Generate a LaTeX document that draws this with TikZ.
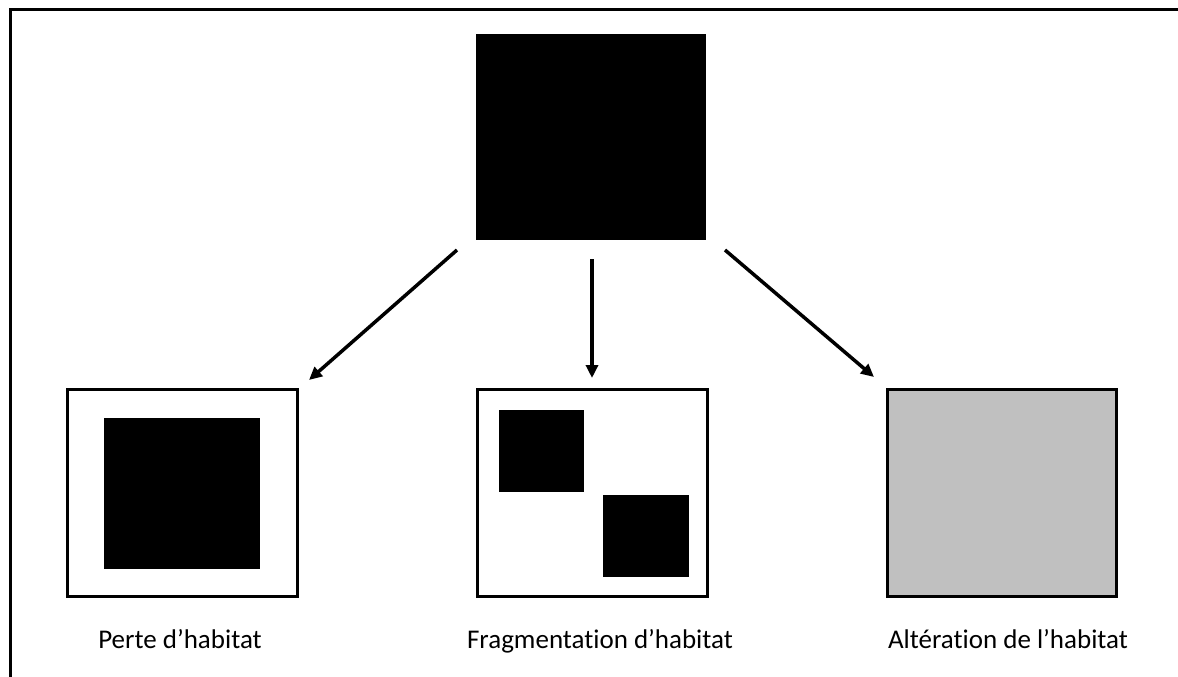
\documentclass[tikz,border=0pt]{standalone}
\usepackage{fontspec}
\setmainfont[Ligatures={NoCommon}]{Carlito}
\usetikzlibrary{arrows.meta}
\begin{document}
\begin{tikzpicture}[x=1pt,y=-1pt,
  frame/.style={draw=black,line width=3pt},
  boxw/.style={draw=black,line width=3pt,fill=white,inner sep=0pt,anchor=north west},
  blk/.style={fill=black,draw=none,inner sep=0pt,anchor=north west},
  arr/.style={line width=3.5pt,-{Triangle[length=13pt,width=12pt]}},
  lbl/.style={font=\fontsize{27}{32}\selectfont,inner sep=0pt,anchor=base}]
\useasboundingbox (0,0) rectangle (1178,677);
\coordinate (fa) at (10,677);
\coordinate (fb) at (10,10);
\coordinate (fc) at (1178,10);
\draw[frame] (fa) -- (fb) -- (fc);
\node[blk,minimum width=230pt,minimum height=206pt] (top) at (476,34) {};
\node[boxw,minimum width=230pt,minimum height=207pt] (b1) at (66,388) {};
\node[blk,minimum width=156pt,minimum height=151pt] (b1i) at (104,418) {};
\node[boxw,minimum width=230pt,minimum height=207pt] (b2) at (476,388) {};
\node[blk,minimum width=85pt,minimum height=82pt] (b2a) at (499,410) {};
\node[blk,minimum width=86pt,minimum height=82pt] (b2b) at (603,495) {};
\node[boxw,fill={rgb,255:red,192;green,192;blue,192},minimum width=229pt,minimum height=207pt] (b3) at (886,388) {};
\coordinate (s1) at (457,250);
\coordinate (e1) at (309,380);
\coordinate (s2) at (592,259);
\coordinate (e2) at (592,378);
\coordinate (s3) at (725,250);
\coordinate (e3) at (874,377);
\draw[arr] (s1) -- (e1);
\draw[arr] (s2) -- (e2);
\draw[arr] (s3) -- (e3);
\node[lbl] (l1) at (180,648) {Perte d’habitat};
\node[lbl] (l2) at (600,648) {Fragmentation d’habitat};
\node[lbl] (l3) at (1008,648) {Altération de l’habitat};
\end{tikzpicture}
\end{document}
